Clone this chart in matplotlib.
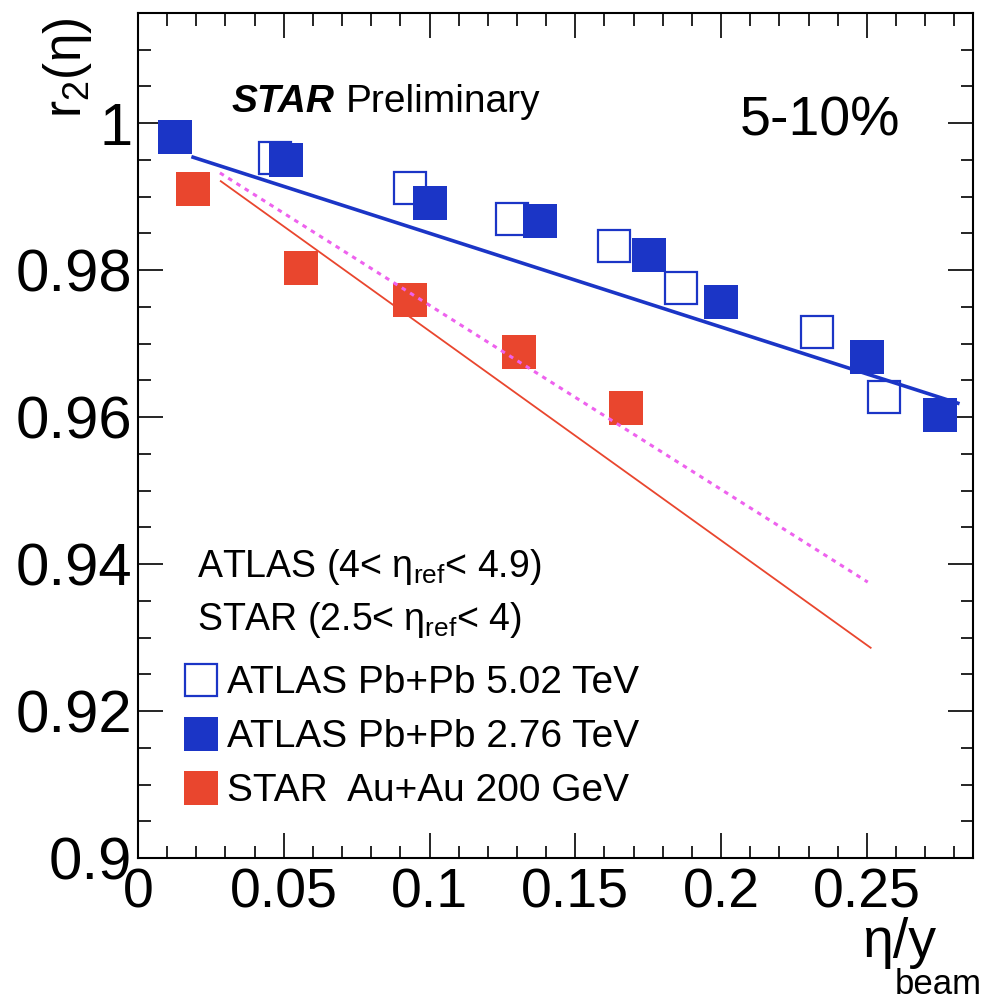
import matplotlib
matplotlib.use("Agg")
import matplotlib.pyplot as plt
from matplotlib.lines import Line2D
from matplotlib.ticker import MultipleLocator

plt.rcParams.update({
    "font.family": "Liberation Sans",
    "mathtext.fontset": "custom",
    "mathtext.rm": "Liberation Sans",
    "mathtext.it": "Liberation Sans:italic",
    "mathtext.bf": "Liberation Sans:bold",
})

# ---------------------------------------------------------------------------
# Data
# ---------------------------------------------------------------------------
atlas502_x = [0.0470, 0.0933, 0.1283, 0.1631, 0.1862, 0.2328, 0.2560]
atlas502_y = [0.9952, 0.9912, 0.9870, 0.9833, 0.9776, 0.9716, 0.9627]

atlas276_x = [0.0127, 0.0507, 0.1001, 0.1379, 0.1751, 0.2001, 0.2500, 0.2750]
atlas276_y = [0.9981, 0.9950, 0.9891, 0.9867, 0.9820, 0.9757, 0.9682, 0.9603]

star_x = [0.0190, 0.0559, 0.0933, 0.1308, 0.1675]
star_y = [0.9910, 0.9803, 0.9760, 0.9688, 0.9612]

# fit lines (end points)
blue_fit_x = [0.0189, 0.2812]
blue_fit_y = [0.99537, 0.9619]
red_fit_x = [0.0284, 0.2513]
red_fit_y = [0.99211, 0.92861]
mag_fit_x = [0.0281, 0.2503]
mag_fit_y = [0.99324, 0.93755]

BLUE = "#1b35c6"
RED = "#e9462e"
MAGENTA = "#ee62ee"

fig = plt.figure(figsize=(9.83, 10.01), dpi=100)
ax = fig.add_axes([138 / 983, 1 - 858 / 1001, 835 / 983, 845 / 1001])

ax.plot(atlas502_x, atlas502_y, ls="none", marker="s", ms=23, mfc="white",
        mec=BLUE, mew=1.6, zorder=3)
ax.plot(atlas276_x, atlas276_y, ls="none", marker="s", ms=24, mfc=BLUE,
        mew=0, zorder=3)
ax.plot(star_x, star_y, ls="none", marker="s", ms=24, mfc=RED,
        mew=0, zorder=3)

ax.plot(blue_fit_x, blue_fit_y, color=BLUE, lw=2.6, zorder=4)
ax.plot(red_fit_x, red_fit_y, color=RED, lw=1.3, zorder=4)
ax.plot(mag_fit_x, mag_fit_y, color=MAGENTA, lw=2.2, dashes=(1.5, 1.7),
        zorder=4)

ax.set_xlim(0, 0.2864)
ax.set_ylim(0.9, 1.015)

ax.xaxis.set_minor_locator(MultipleLocator(0.01))
ax.yaxis.set_minor_locator(MultipleLocator(0.005))
ax.set_xticks([0, 0.05, 0.1, 0.15, 0.2, 0.25])
ax.set_xticklabels(["0", "0.05", "0.1", "0.15", "0.2", "0.25"])
ax.set_yticks([0.9, 0.92, 0.94, 0.96, 0.98, 1.0])
ax.set_yticklabels(["0.9", "0.92", "0.94", "0.96", "0.98", "1"])

ax.tick_params(which="both", direction="in", top=True, right=True, width=1.2)
ax.tick_params(which="major", length=18)
ax.tick_params(which="minor", length=9)
ax.tick_params(axis="x", pad=7, labelsize=40)
ax.tick_params(axis="y", pad=4, labelsize=43)
for spine in ax.spines.values():
    spine.set_linewidth(1.5)

# axis titles (ROOT style, at the ends)
fig.text(68 / 983, 1 - 17 / 1001, "r$_{2}$(η)", rotation=90, ha="center",
         va="top", fontsize=37)
fig.text(936 / 983, 1 - 957 / 1001, "η/y", ha="right", va="baseline",
         fontsize=40)
fig.text(982 / 983, 1 - 994 / 1001, "beam", ha="right", va="baseline",
         fontsize=25)

# labels
ax.text(0.112, 0.883, "STAR", transform=ax.transAxes, fontsize=28,
        fontweight="bold", fontstyle="italic", va="baseline")
ax.text(0.249, 0.883, "Preliminary", transform=ax.transAxes, fontsize=28,
        va="baseline")
ax.text(0.721, 0.8556, "5-10%", transform=ax.transAxes, fontsize=40,
        va="baseline")

ax.text(0.0707, 0.3325, "ATLAS (4< η$_{\\mathrm{ref}}$< 4.9)",
        transform=ax.transAxes, fontsize=27, va="baseline")
ax.text(0.0707, 0.27, "STAR (2.5< η$_{\\mathrm{ref}}$< 4)",
        transform=ax.transAxes, fontsize=27, va="baseline")

handles = [
    Line2D([], [], ls="none", marker="s", ms=23, mfc="white", mec=BLUE, mew=1.6),
    Line2D([], [], ls="none", marker="s", ms=24, mfc=BLUE, mew=0),
    Line2D([], [], ls="none", marker="s", ms=24, mfc=RED, mew=0),
]
labels = ["ATLAS Pb+Pb 5.02 TeV", "ATLAS Pb+Pb 2.76 TeV", "STAR  Au+Au 200 GeV"]
ax.legend(handles, labels, loc="upper left", bbox_to_anchor=(0.053, 0.228),
          frameon=False, fontsize=28, borderpad=0, borderaxespad=0,
          handlelength=0.95, handletextpad=0.2, labelspacing=0.46)

fig.savefig("out.png", dpi=100)
